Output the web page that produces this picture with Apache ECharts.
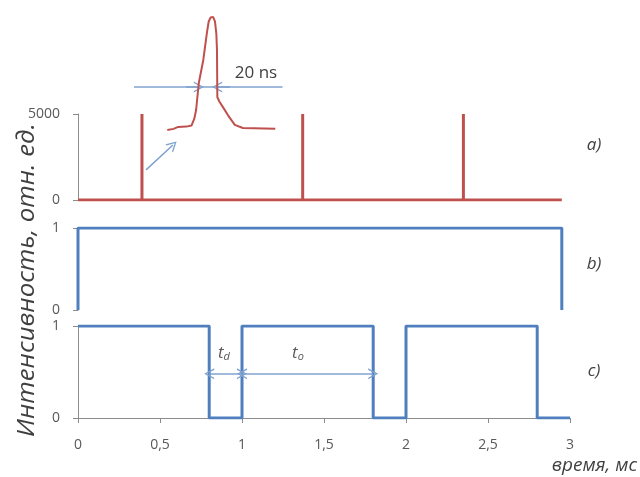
<!DOCTYPE html>
<html><head><meta charset="utf-8">
<script src="https://cdn.jsdelivr.net/npm/echarts@6/dist/echarts.min.js"></script>
<style>html,body{margin:0;padding:0;background:#fff}#c{width:640px;height:477px}</style>
</head><body><div id="c"></div>
<script>
// ---- data ----
const xMin = 0, xMax = 3, xStep = 0.5;
const pulseTimes = [0.39, 1.37, 2.35];      // ms
const pulseHeight = 5000;
const traceEnd = 2.95;
const gateStart = 0, gateEnd = 2.95;
const modHighStart = [0, 1, 2];
const modHighEnd = [0.8, 1.8, 2.8];
const modEnd = 3;
const insetTimeNs = [37, 44, 49, 58, 64, 67, 69, 72, 77, 81, 83, 85, 88, 90, 91.5, 92.2, 92.6, 95, 99, 104.5, 112, 121, 157];
const insetIntensity = [0, 0.01, 0.027, 0.03, 0.04, 0.1, 0.177, 0.416, 0.62, 0.86, 0.96, 0.995, 1.0, 0.96, 0.85, 0.71, 0.29, 0.25, 0.2, 0.13, 0.045, 0.018, 0.01];
const fwhmLevel = 0.38;
const fwhmLeft = 72, fwhmRight = 92.4, insetLineEnd = 165;
const tdArrow = [0.8, 1.0], toArrow = [1.0, 1.8], arrowLevel = 0.48;
const pointerFrom = [0.415, 1750], pointerTo = [0.579, 3200];

// ---- build step traces ----
const redData = [[0, 0]];
pulseTimes.forEach(t => { redData.push([t, 0], [t, pulseHeight], [t, 0]); });
redData.push([traceEnd, 0]);
const gateData = [[gateStart, 0], [gateStart, 1], [gateEnd, 1], [gateEnd, 0]];
const modData = [];
modHighStart.forEach((s, i) => {
  if (s > xMin || i > 0) modData.push([s, 0]);
  modData.push([s, 1], [modHighEnd[i], 1], [modHighEnd[i], 0]);
});
modData.push([modEnd, 0]);
const insetData = insetTimeNs.map((t, i) => [t, insetIntensity[i]]);

const RED = '#c0504d', BLUE = '#4f7fbf', ARROW = '#7fa3cf', AX = '#8c8c8c', TXT = '#595959';
const FONT = 'Open Sans';
const chev = 'path://M0,10 L5,0 L10,10 L8.6,10 L5,2.6 L1.4,10 Z';

const L = 78, W = 492;
const chart = echarts.init(document.getElementById('c'), null, {renderer: 'canvas'});
const yBase = (extra) => Object.assign({
  type: 'value', splitLine: {show: false},
  axisLine: {show: true, lineStyle: {color: AX, width: 1}},
  axisTick: {show: true, length: 5, lineStyle: {color: AX}},
  axisLabel: {color: TXT, fontFamily: FONT, fontSize: 14, margin: 18, formatter: v => String(v)}
}, extra);
const xHidden = (gi) => ({type: 'value', gridIndex: gi, min: xMin, max: xMax, interval: xStep, show: false});

chart.setOption({
  animation: false,
  grid: [
    {left: L, width: W, top: 114, height: 86},
    {left: L, width: W, top: 228, height: 82},
    {left: L, width: W, top: 326, height: 92},
    {left: 134, width: 148.5, top: 17, height: 113}
  ],
  xAxis: [
    xHidden(0), xHidden(1),
    {type: 'value', gridIndex: 2, min: xMin, max: xMax, interval: xStep,
      splitLine: {show: false},
      axisLine: {show: true, lineStyle: {color: AX, width: 1}},
      axisTick: {show: true, length: 5, lineStyle: {color: AX}},
      axisLabel: {color: TXT, fontFamily: FONT, fontSize: 14, margin: 20,
        formatter: v => String(v).replace('.', ',')}},
    {type: 'value', gridIndex: 3, min: 0, max: insetLineEnd, show: false}
  ],
  yAxis: [
    yBase({gridIndex: 0, min: 0, max: pulseHeight, interval: pulseHeight}),
    yBase({gridIndex: 1, min: 0, max: 1, interval: 1}),
    yBase({gridIndex: 2, min: 0, max: 1, interval: 1}),
    {type: 'value', gridIndex: 3, min: 0, max: 1, show: false}
  ],
  series: [
    {type: 'line', xAxisIndex: 0, yAxisIndex: 0, data: redData, symbol: 'none',
      lineStyle: {color: RED, width: 3}, z: 3,
      markLine: {silent: true, symbol: ['none', chev], symbolSize: [11, 10],
        label: {show: false},
        lineStyle: {color: ARROW, width: 1.5, type: 'solid'},
        data: [[{coord: pointerFrom}, {coord: pointerTo}]]}},
    {type: 'line', xAxisIndex: 1, yAxisIndex: 1, data: gateData, symbol: 'none',
      lineStyle: {color: BLUE, width: 3}, z: 3},
    {type: 'line', xAxisIndex: 2, yAxisIndex: 2, data: modData, symbol: 'none',
      lineStyle: {color: BLUE, width: 3}, z: 3,
      markLine: {silent: true, symbol: [chev, chev], symbolSize: [11, 10],
        label: {show: false},
        lineStyle: {color: ARROW, width: 1.5, type: 'solid'},
        data: [
          [{coord: [tdArrow[0], arrowLevel]}, {coord: [tdArrow[1], arrowLevel]}],
          [{coord: [toArrow[0], arrowLevel]}, {coord: [toArrow[1], arrowLevel]}]
        ]}},
    {type: 'line', xAxisIndex: 3, yAxisIndex: 3, symbol: 'none',
      data: [[0, fwhmLevel], [insetLineEnd, fwhmLevel]],
      lineStyle: {color: ARROW, width: 1.5}, z: 4,
      markLine: {silent: true, symbol: ['none', chev], symbolSize: [11, 10],
        label: {show: false},
        lineStyle: {color: ARROW, width: 1.5, type: 'solid'},
        data: [
          [{coord: [fwhmLeft - 14, fwhmLevel]}, {coord: [fwhmLeft, fwhmLevel]}],
          [{coord: [fwhmRight + 14, fwhmLevel]}, {coord: [fwhmRight, fwhmLevel]}]
        ]}},
    {type: 'line', xAxisIndex: 3, yAxisIndex: 3, symbol: 'none', data: insetData,
      lineStyle: {color: RED, width: 2}, z: 5}
  ],
  graphic: [
    {type: 'text', x: 27, y: 280, rotation: Math.PI / 2, scaleX: 1.12,
      style: {text: 'Интенсивность, отн. ед.', font: 'italic 23px "Open Sans"', fill: '#404040',
        align: 'center', verticalAlign: 'middle'}},
    {type: 'text', x: 637, y: 466,
      style: {text: 'время, мс', font: 'italic 19px "Open Sans"', fill: '#404040',
        align: 'right', verticalAlign: 'middle'}},
    {type: 'text', x: 594, y: 145, style: {text: 'a)', font: 'italic 17px "Open Sans"', fill: '#404040', align: 'center', verticalAlign: 'middle'}},
    {type: 'text', x: 594, y: 264, style: {text: 'b)', font: 'italic 17px "Open Sans"', fill: '#404040', align: 'center', verticalAlign: 'middle'}},
    {type: 'text', x: 594, y: 371, style: {text: 'c)', font: 'italic 17px "Open Sans"', fill: '#404040', align: 'center', verticalAlign: 'middle'}},
    {type: 'text', x: 256, y: 73, style: {text: '20 ns', font: '17px "Open Sans"', fill: '#404040', align: 'center', verticalAlign: 'middle'}},
    {type: 'text', x: 224, y: 353, style: {text: '{t|t}{s|d}', align: 'center', verticalAlign: 'middle',
      rich: {t: {font: 'italic 17px "Open Sans"', fill: TXT}, s: {font: 'italic 11px "Open Sans"', fill: TXT, padding: [8, 0, 0, 0]}}}},
    {type: 'text', x: 298, y: 353, style: {text: '{t|t}{s|o}', align: 'center', verticalAlign: 'middle',
      rich: {t: {font: 'italic 17px "Open Sans"', fill: TXT}, s: {font: 'italic 11px "Open Sans"', fill: TXT, padding: [8, 0, 0, 0]}}}}
  ]
});
</script></body></html>
